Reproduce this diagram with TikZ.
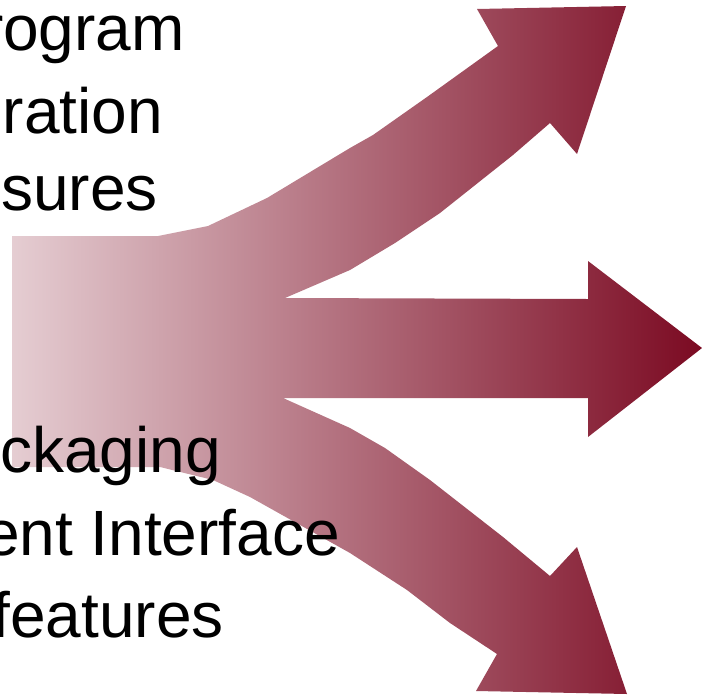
\documentclass[tikz,border=0pt]{standalone}
\usepackage{fontspec}
\setmainfont{Liberation Sans}
\usetikzlibrary{positioning}
\definecolor{forkdark}{HTML}{7B0A22}
\definecolor{forklight}{HTML}{E5CDD2}

\begin{document}
\begin{tikzpicture}[x=1pt,y=-1pt,
  lbl/.style={anchor=base east,inner sep=0pt,font=\fontsize{64}{72}\selectfont},
  fork/.style={left color=forklight,right color=forkdark}]
  \useasboundingbox (0,0) rectangle (702,697);
  % three-way arrow
  \shade[fork] (12,236) -- (158,236) -- (208,226) -- (267,198) -- (350,148)
    -- (373,135) -- (427,97) -- (498,46) -- (477,9) -- (626,6) -- (577,154)
    -- (550,123) -- (513,155) -- (440,213) -- (395,243) -- (350,270) -- (285,298)
    -- (588,299) -- (588,261) -- (702,348) -- (588,437) -- (588,398) -- (283,398)
    -- (350,428) -- (385,448) -- (430,480) -- (503,537) -- (550,576) -- (577,547)
    -- (627,694) -- (476,691) -- (497,654) -- (450,623) -- (407,590) -- (350,553)
    -- (250,497) -- (213,480) -- (160,467) -- (12,467) -- cycle;
  % labels, cut off at the left border
  \node[lbl] (prog) at (185,50)  {rogram};
  \node[lbl] (oper) at (163,133) {ration};
  \node[lbl] (meas) at (158,210) {sures};
  \node[lbl] (pack) at (221,472) {ckaging};
  \node[lbl] (intf) at (340,555) {ent Interface};
  \node[lbl] (feat) at (224,637) {features};
\end{tikzpicture}
\end{document}
